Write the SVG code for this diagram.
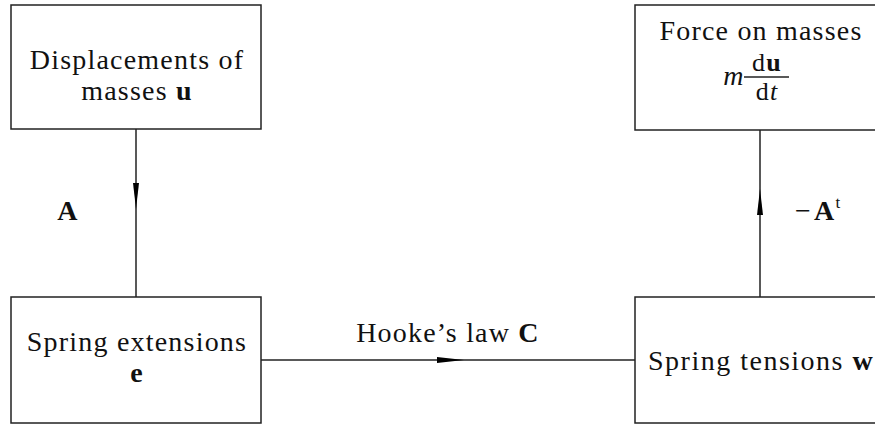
<svg xmlns="http://www.w3.org/2000/svg" width="875" height="424" viewBox="0 0 875 424">
<style>
.box{fill:#fff;stroke:#222;stroke-width:1.5}
.ln{stroke:#222;stroke-width:1.5;fill:none}
.ah{fill:#000;stroke:none}
text{font-family:"Liberation Serif","Times New Roman","DejaVu Serif",serif;font-size:28px;fill:#111;letter-spacing:1.2px}
.c{text-anchor:middle}
.b{font-weight:bold}
.i{font-style:italic}
.f{font-size:26px}
</style>
<rect width="875" height="424" fill="#fff"/>
<g id="connectors">
<line class="ln" x1="136" y1="129" x2="136" y2="297"/>
<polygon class="ah" points="133,183 139,183 136,209"/>
<line class="ln" x1="760" y1="130" x2="760" y2="297"/>
<polygon class="ah" points="757,215 763,215 760,189"/>
<line class="ln" x1="261" y1="360" x2="635" y2="360"/>
<polygon class="ah" points="437,357 437,363 464,360"/>
<text x="68" y="220" class="c b">A</text>
<text x="795" y="220"><tspan>−</tspan><tspan class="b" dx="2">A</tspan><tspan font-size="17" dy="-12">t</tspan></text>
<text x="448" y="342" class="c">Hooke’s law <tspan class="b">C</tspan></text>
</g>
<g id="displacements">
<rect class="box" x="11" y="5" width="250" height="124"/>
<text x="137" y="69" class="c">Displacements of</text>
<text x="137" y="100" class="c">masses <tspan class="b">u</tspan></text>
</g>
<g id="force">
<rect class="box" x="635" y="5" width="260" height="125"/>
<text x="761" y="40" class="c">Force on masses</text>
<text x="734" y="85" class="c i">m</text>
<text x="767" y="71" class="c f">d<tspan class="b">u</tspan></text>
<line class="ln" x1="744" y1="77" x2="789" y2="77" stroke-width="1.2"/>
<text x="767" y="100" class="c f">d<tspan class="i">t</tspan></text>
</g>
<g id="extensions">
<rect class="box" x="11" y="297" width="250" height="126"/>
<text x="137" y="351" class="c">Spring extensions</text>
<text x="137" y="382" class="c b">e</text>
</g>
<g id="tensions">
<rect class="box" x="635" y="297" width="260" height="126"/>
<text x="648" y="370" style="letter-spacing:1.5px">Spring tensions <tspan class="b">w</tspan></text>
</g>
</svg>
